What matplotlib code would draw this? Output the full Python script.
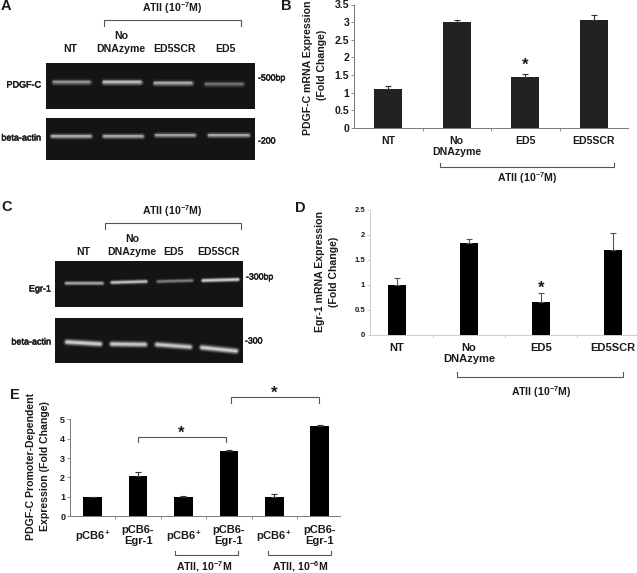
import numpy as np
import matplotlib
matplotlib.use('Agg')
import matplotlib.pyplot as plt
import matplotlib.patheffects as pe

plt.rcParams['font.family'] = ['Liberation Sans', 'DejaVu Sans']
plt.rcParams['font.weight'] = 'bold'
plt.rcParams['mathtext.fontset'] = 'custom'
plt.rcParams['mathtext.rm'] = 'Liberation Sans:bold'
plt.rcParams['mathtext.bf'] = 'Liberation Sans:bold'
plt.rcParams['mathtext.default'] = 'bf'

W, H = 637, 573

# bar panels
b_labels = ['NT', 'No\nDNAzyme', 'ED5', 'ED5SCR']
b_vals = [1.1, 3.0, 1.45, 3.05]
b_errs = [0.09, 0.05, 0.09, 0.15]
b_ticks = [0, 0.5, 1, 1.5, 2, 2.5, 3, 3.5]

d_labels = ['NT', 'No\nDNAzyme', 'ED5', 'ED5SCR']
d_vals = [1.0, 1.84, 0.66, 1.7]
d_errs = [0.13, 0.07, 0.18, 0.33]
d_ticks = [0, 0.5, 1, 1.5, 2, 2.5]

e_labels = ['pCB6$^{+}$', 'pCB6-\nEgr-1', 'pCB6$^{+}$', 'pCB6-\nEgr-1', 'pCB6$^{+}$', 'pCB6-\nEgr-1']
e_vals = [1.0, 2.1, 1.0, 3.35, 1.0, 4.68]
e_errs = [0.02, 0.2, 0.03, 0.05, 0.14, 0.05]
e_ticks = [0, 1, 2, 3, 4, 5]

# gel bands: x start, x end, y start, y end, brightness
a_top_bands = [(54, 89, 82, 82, 0.55), (104, 140, 82, 82, 0.85), (155, 191, 82.5, 82.5, 0.7), (206, 242, 84, 84, 0.4)]
a_low_bands = [(52, 90, 135.5, 135.5, 0.75), (104, 142, 135.5, 135.5, 0.7), (156, 194, 135, 135, 0.65), (209, 248, 135, 135, 0.7)]
c_top_bands = [(66, 102, 283, 283, 0.7), (112, 146, 282.5, 281.5, 0.9), (158, 192, 281.5, 280.5, 0.45), (203, 238, 280.5, 279.5, 1.0)]
c_low_bands = [(67, 100, 342, 344, 1.0), (112, 145, 344, 344.5, 0.95), (157, 190, 344.5, 347, 0.95), (202, 236, 347.5, 351, 1.0)]

fig = plt.figure(figsize=(W / 100, H / 100), dpi=100)
bg = fig.add_axes([0, 0, 1, 1])
bg.set_xlim(0, W)
bg.set_ylim(H, 0)
bg.axis('off')


def px_axes(left, right, top, bottom):
    ax = fig.add_axes([left / W, 1 - bottom / H, (right - left) / W, (bottom - top) / H])
    ax.patch.set_alpha(0)
    return ax


def label(x, y, s, size=7.6, ha='center', **kw):
    return bg.text(x, y, s, fontsize=size, ha=ha, va='center', color='#1a1a1a', **kw)


def gel_label(x, y, s, ha, size=6.5):
    t = label(x, y, s, size=size, ha=ha, fontweight='normal')
    t.set_path_effects([pe.withStroke(linewidth=0.35, foreground='#1a1a1a')])


def bracket(x0, x1, y, tip, color='#555555'):
    bg.plot([x0, x0, x1, x1], [tip, y, y, tip], color=color, lw=0.8, solid_joinstyle='miter')


def gel(x0, x1, y0, y1, bands, thick):
    bg.fill_between([x0, x1], y0, y1, color='#141414', lw=0)
    for xa, xb, ya, yb, level in bands:
        # soft glow, then the bright core
        for k, alpha in [(2.2, 0.07), (1.8, 0.12), (1.4, 0.2), (1.0, 0.3), (0.6, 0.5)]:
            bg.plot([xa, xb], [ya, yb], color='white', lw=thick * k, alpha=alpha * level,
                    solid_capstyle='round')


def bar_panel(ax, vals, errs, labels, width, color, ticks, ymax, xlim, axis_color, tick_size,
              label_pad, ecolor, label_size=7.6, spacing=1.05):
    x = np.arange(len(vals))
    ax.bar(x, vals, width, color=color)
    ax.errorbar(x, vals, yerr=[np.zeros(len(errs)), errs], fmt='none', ecolor=ecolor,
                elinewidth=0.8, capsize=2, capthick=0.8)
    ax.set_xlim(*xlim)
    ax.set_ylim(0, ymax)
    ax.set_yticks(ticks)
    ax.set_yticklabels([str(t) for t in ticks], fontsize=tick_size, color='#1a1a1a')
    ax.set_xticks(x[:-1] + 0.5)
    ax.set_xticklabels([])
    ax.set_xticks(x, labels, minor=True, fontsize=label_size, color='#1a1a1a', linespacing=spacing)
    ax.tick_params(axis='x', which='minor', length=0, pad=label_pad)
    ax.tick_params(axis='x', which='major', length=2, width=0.6, color=axis_color)
    ax.tick_params(axis='y', length=2, width=0.6, color=axis_color, pad=1.5)
    ax.spines['top'].set_visible(False)
    ax.spines['right'].set_visible(False)
    ax.spines['left'].set_color(axis_color)
    ax.spines['bottom'].set_color(axis_color)
    ax.spines['left'].set_linewidth(0.7)
    ax.spines['bottom'].set_linewidth(0.7)


ATII7 = 'ATII (10$^{-7}$M)'

# panel A
label(0.5, 5.5, 'A', size=10.5, ha='left')
label(172, 8, ATII7)
bracket(103.5, 240.5, 19.5, 26)
label(70, 49, 'NT')
label(121, 36, 'No')
label(121, 49, 'DNAzyme')
label(174, 49, 'ED5SCR')
label(225, 49, 'ED5')
gel(46, 255, 63, 109, a_top_bands, 2.6)
gel(46, 255, 118, 160, a_low_bands, 2.4)
gel_label(41, 85, 'PDGF-C', 'right')
gel_label(41, 138, 'beta-actin', 'right')
gel_label(258, 78, '-500bp', 'left', 6.3)
gel_label(258, 141, '-200', 'left', 6.3)

# panel B
label(281.5, 6, 'B', size=10.5, ha='left')
ax_b = px_axes(354, 628, 4.5, 128)
bar_panel(ax_b, b_vals, b_errs, b_labels, 0.41, '#222222', b_ticks, 3.5, (-0.5, 3.5), '#777777', 7.6, 6, '#333333')
bg.text(308, 135, 'PDGF-C mRNA Expression', rotation=90, fontsize=7.6, ha='center', va='bottom', color='#1a1a1a')
bg.text(322, 65, '(Fold Change)', rotation=90, fontsize=7.6, ha='center', va='center', color='#1a1a1a')
label(525, 65, '*', size=12)
bracket(440, 613.5, 166.5, 162.5)
label(527, 178, ATII7)

# panel C
label(1, 207, 'C', size=10.5, ha='left')
label(172, 211, ATII7)
bracket(105, 241, 222.7, 229)
label(83, 252, 'NT')
label(132, 239.5, 'No')
label(132, 252, 'DNAzyme')
label(173, 252, 'ED5')
label(219, 252, 'ED5SCR')
gel(55, 243, 261, 307, c_top_bands, 2.0)
gel(55, 243, 318, 363, c_low_bands, 2.8)
gel_label(51, 289, 'Egr-1', 'right')
gel_label(51, 342, 'beta-actin', 'right')
gel_label(246, 277, '-300bp', 'left', 6.3)
gel_label(245, 341, '-300', 'left', 6.3)

# panel D
label(295, 208, 'D', size=10.5, ha='left')
ax_d = px_axes(370, 637, 210, 334.5)
bar_panel(ax_d, d_vals, d_errs, d_labels, 0.25, 'black', d_ticks, 2.5, (-0.375, 3.33), '#cccccc', 5.5, 6,
          '#555555', label_size=8, spacing=1.2)
bg.text(320, 272, 'Egr-1 mRNA Expression', rotation=90, fontsize=7.6, ha='center', va='center', color='#1a1a1a')
bg.text(334, 272, '(Fold Change)', rotation=90, fontsize=7.6, ha='center', va='center', color='#1a1a1a')
label(541, 288, '*', size=12)
bracket(457, 623, 377, 372)
label(541, 392, ATII7)

# panel E
label(10, 395, 'E', size=10.5, ha='left')
ax_e = px_axes(70, 340, 419.3, 516.3)
bar_panel(ax_e, e_vals, e_errs, e_labels, 0.41, 'black', e_ticks, 5, (-0.5, 5.45), '#777777', 6.5, 6,
          '#333333', label_size=8, spacing=1.2)
# the single-line labels sit lower than the two-line ones
for i in [0, 2, 4]:
    ax_e.xaxis.get_minor_ticks()[i].set_pad(9)
bg.text(31, 466, 'PDGF-C Promoter-Dependent', rotation=90, fontsize=7.6, ha='center', va='center', color='#1a1a1a')
bg.text(45, 466, 'Expression (Fold Change)', rotation=90, fontsize=7.6, ha='center', va='center', color='#1a1a1a')
bracket(138, 226, 437, 442)
label(181, 433, '*', size=12)
bracket(231, 319, 397, 403)
label(274, 393, '*', size=12)
bracket(175, 238, 555, 551)
label(204, 567, 'ATII, 10$^{-7}$M')
bracket(268, 331, 555, 551)
label(300, 567, 'ATII, 10$^{-6}$M')

fig.savefig('out.png', dpi=100)
